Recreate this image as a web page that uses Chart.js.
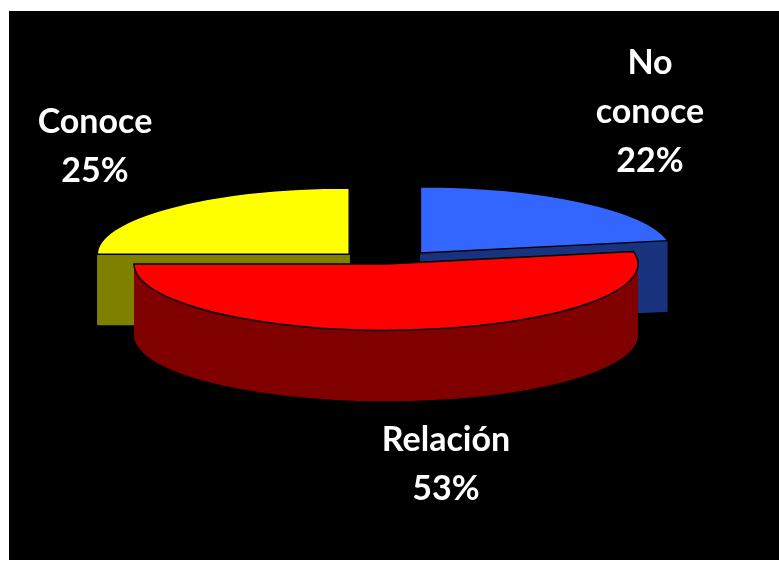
<!DOCTYPE html>
<html lang="es">
<head>
    <meta charset="UTF-8">
    <title>Conoce / No conoce / Relación</title>
    <script src="https://cdn.jsdelivr.net/npm/chart.js"></script>
    <style>
        html, body {
            margin: 0;
            background-color: #ffffff;
            overflow: hidden;
        }
        #marco {
            position: absolute;
            left: 9px;
            top: 11px;
            width: 770px;
            height: 549px;
            background-color: #000000;
        }
    </style>
</head>
<body>
    <div id="marco">
        <canvas id="grafico" width="770" height="549"></canvas>
    </div>

    <script>
        // Datos (orden: empieza arriba y gira en sentido horario)
        const categorias = ['No conoce', 'Relación', 'Conoce'];
        const porcentajes = [22, 53, 25];

        const coloresCara = ['#3366FF', '#FF0000', '#FFFF00'];
        const coloresLado = ['#1A337F', '#800000', '#808000'];

        // Pastel "3D": se aplana la elipse y se apilan capas para el grosor
        const pastel3d = {
            id: 'pastel3d',
            beforeDatasetsDraw(chart, args, opts) {
                const ctx = chart.ctx;
                const meta = chart.getDatasetMeta(0);

                opts.orden.forEach(i => {
                    const arc = meta.data[i];
                    const p = arc.getProps(['x', 'y', 'startAngle', 'endAngle', 'outerRadius']);
                    const off = arc.options.offset || 0;
                    const mid = (p.startAngle + p.endAngle) / 2;
                    const cx = p.x + Math.cos(mid) * off;
                    const cy = p.y + Math.sin(mid) * off;

                    const trazar = (dy) => {
                        ctx.save();
                        ctx.translate(0, p.y + dy);
                        ctx.scale(1, opts.inclinacion);
                        ctx.translate(0, -p.y);
                        ctx.beginPath();
                        ctx.moveTo(cx, cy);
                        ctx.arc(cx, cy, p.outerRadius, p.startAngle, p.endAngle);
                        ctx.closePath();
                        ctx.restore();
                    };

                    // lados
                    ctx.fillStyle = coloresLado[i];
                    for (let d = opts.grosor; d >= 1; d--) {
                        trazar(d);
                        ctx.fill();
                    }
                    // cara superior
                    trazar(0);
                    ctx.fillStyle = arc.options.backgroundColor;
                    ctx.fill();
                    ctx.lineWidth = 1.5;
                    ctx.strokeStyle = '#000000';
                    ctx.stroke();
                });
                return false;
            },
            afterDraw(chart, args, opts) {
                const ctx = chart.ctx;
                ctx.save();
                ctx.fillStyle = '#ffffff';
                ctx.font = 'bold 34px Lato';
                ctx.textAlign = 'center';
                ctx.textBaseline = 'alphabetic';
                opts.etiquetas.forEach((et, i) => {
                    const lineas = et.partir ? categorias[i].split(' ') : [categorias[i]];
                    lineas.push(porcentajes[i] + '%');
                    lineas.forEach((txt, j) => {
                        ctx.fillText(txt, et.x, et.y + j * opts.interlineado);
                    });
                });
                ctx.restore();
            }
        };

        new Chart(document.getElementById('grafico'), {
            type: 'pie',
            data: {
                labels: categorias,
                datasets: [{
                    data: porcentajes,
                    backgroundColor: coloresCara,
                    borderWidth: 0,
                    offset: [54, 0, 52]
                }]
            },
            options: {
                responsive: false,
                animation: false,
                radius: 252,
                layout: {
                    padding: { left: 0, right: 16, top: 0, bottom: 43 }
                },
                plugins: {
                    legend: { display: false },
                    tooltip: { enabled: false },
                    pastel3d: {
                        orden: [0, 2, 1],
                        inclinacion: 0.263,
                        grosor: 71,
                        interlineado: 49,
                        etiquetas: [
                            { x: 641, y: 63, partir: true },
                            { x: 437, y: 440, partir: false },
                            { x: 86, y: 122, partir: false }
                        ]
                    }
                }
            },
            plugins: [pastel3d]
        });
    </script>
</body>
</html>
